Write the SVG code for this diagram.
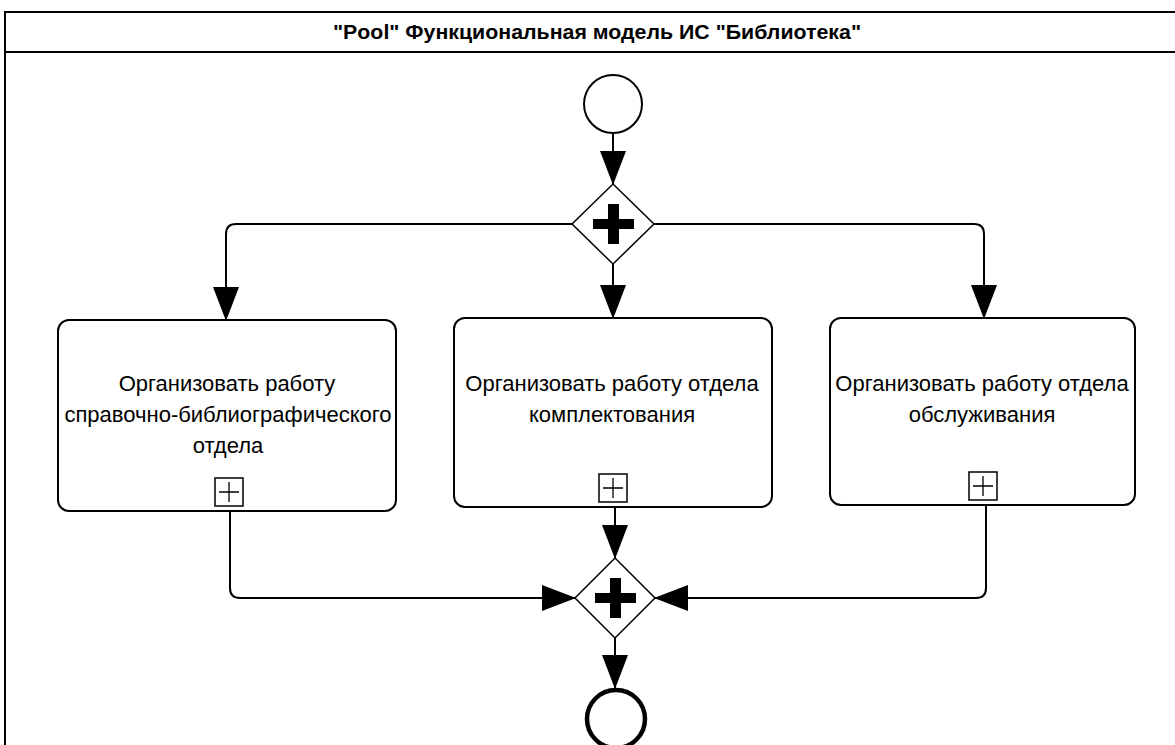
<svg xmlns="http://www.w3.org/2000/svg" width="1175" height="745" viewBox="0 0 1175 745">
<defs>
<style>
.pool{fill:none;stroke:#000;stroke-width:2}
.task{fill:#fff;stroke:#000;stroke-width:2}
.gw{fill:#fff;stroke:#000;stroke-width:1.5}
.cross{fill:#000}
.mk{fill:#fff;stroke:#000;stroke-width:1.5}
.mkp{stroke:#000;stroke-width:1.3;fill:none}
.lbl{font-family:"Liberation Sans",Arial,sans-serif;font-size:22px;fill:#000;text-anchor:middle}
.title{font-family:"Liberation Sans",Arial,sans-serif;font-size:21px;font-weight:bold;fill:#000;text-anchor:middle}
.flow{fill:none;stroke:#000;stroke-width:2}
</style>
<marker id="arr" markerUnits="userSpaceOnUse" markerWidth="34" markerHeight="26" viewBox="0 0 34 26" refX="33" refY="13" orient="auto">
<path d="M0,0 L34,13 L0,26 z" fill="#000"/>
</marker>
</defs>
<rect width="1175" height="745" fill="#fff"/>
<g id="pool">
<path class="pool" d="M1180,12 H5 V750"/>
<line x1="5" y1="52" x2="1180" y2="52" stroke="#000" stroke-width="2"/>
<text class="title" x="597" y="39" textLength="528" lengthAdjust="spacingAndGlyphs">"Pool"  Функциональная модель ИС "Библиотека"</text>
</g>
<g id="connectors">
<path class="flow" d="M613,133 V184" marker-end="url(#arr)"/>
<path class="flow" d="M572,224 H236 Q226,224 226,234 V320" marker-end="url(#arr)"/>
<path class="flow" d="M654,224 H974 Q984,224 984,234 V318" marker-end="url(#arr)"/>
<path class="flow" d="M613,264 V318" marker-end="url(#arr)"/>
<path class="flow" d="M230,511 V588 Q230,598 240,598 H575" marker-end="url(#arr)"/>
<path class="flow" d="M615,507 V558" marker-end="url(#arr)"/>
<path class="flow" d="M986,505 V588 Q986,598 976,598 H655" marker-end="url(#arr)"/>
<path class="flow" d="M615,638 V688" marker-end="url(#arr)"/>
</g>
<g id="start">
<circle cx="613" cy="104" r="29" fill="#fff" stroke="#000" stroke-width="2"/>
</g>
<g id="fork">
<path class="gw" d="M613,184 L654,224 L613,264 L572,224 z"/>
<path class="cross" d="M608,204 H619 V219 H634 V229 H619 V244 H608 V229 H593 V219 H608 z"/>
</g>
<g id="task1">
<rect class="task" x="58" y="320" width="338" height="191" rx="11"/>
<text class="lbl" x="227" y="391">Организовать работу</text>
<text class="lbl" x="228" y="422">справочно-библиографического</text>
<text class="lbl" x="228" y="453">отдела</text>
<rect class="mk" x="215" y="478" width="28" height="28"/>
<path class="mkp" d="M229,482 V502 M219,492 H239"/>
</g>
<g id="task2">
<rect class="task" x="454" y="318" width="318" height="189" rx="11"/>
<text class="lbl" x="612" y="391">Организовать работу отдела</text>
<text class="lbl" x="612" y="422">комплектования</text>
<rect class="mk" x="599" y="474" width="28" height="28"/>
<path class="mkp" d="M613,478 V498 M603,488 H623"/>
</g>
<g id="task3">
<rect class="task" x="830" y="318" width="305" height="187" rx="11"/>
<text class="lbl" x="982" y="391">Организовать работу отдела</text>
<text class="lbl" x="982" y="422">обслуживания</text>
<rect class="mk" x="969" y="472" width="28" height="28"/>
<path class="mkp" d="M983,476 V496 M973,486 H993"/>
</g>
<g id="join">
<path class="gw" d="M615,558 L655,598 L615,638 L575,598 z"/>
<path class="cross" d="M610,578 H621 V593 H636 V603 H621 V618 H610 V603 H595 V593 H610 z"/>
</g>
<g id="end">
<circle cx="616" cy="719" r="29" fill="#fff" stroke="#000" stroke-width="4.5"/>
</g>
</svg>
